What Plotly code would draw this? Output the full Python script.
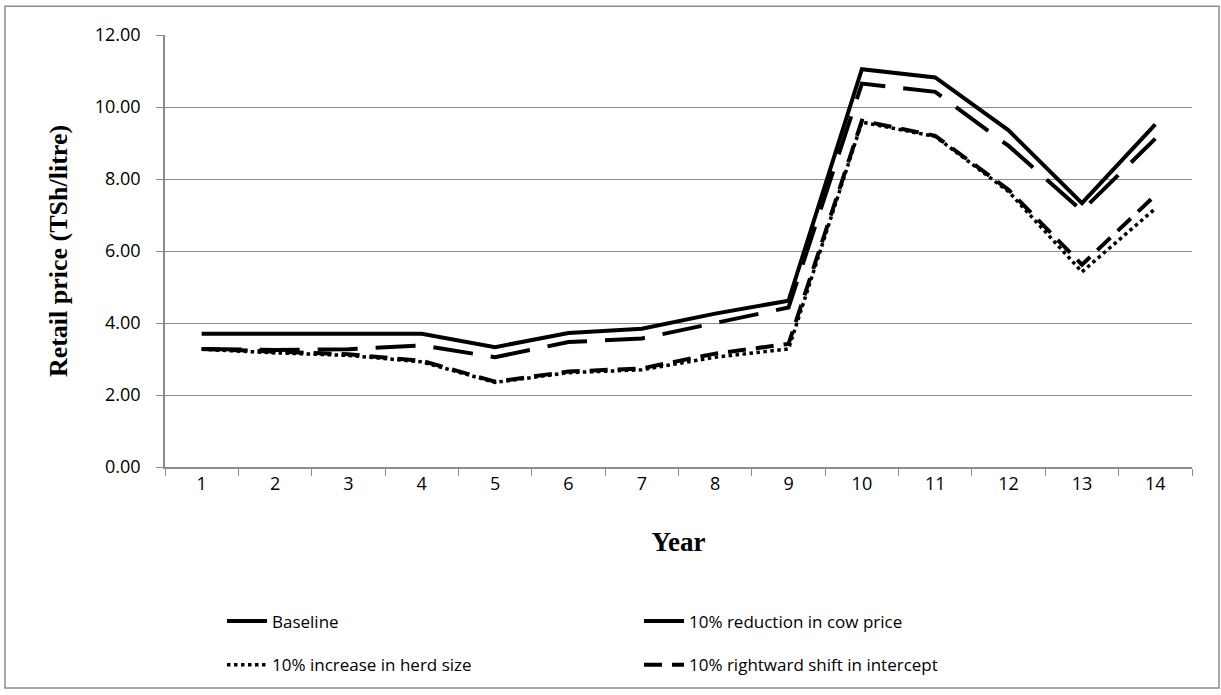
import plotly.graph_objects as go

years = [str(i) for i in range(1, 15)]
baseline = [3.70, 3.70, 3.70, 3.70, 3.33, 3.72, 3.84, 4.26, 4.62, 11.05, 10.82, 9.35, 7.33, 9.52]
cow_price = [3.28, 3.25, 3.27, 3.38, 3.05, 3.47, 3.57, 4.00, 4.43, 10.65, 10.42, 8.92, 7.12, 9.12]
herd_size = [3.27, 3.17, 3.10, 2.92, 2.35, 2.62, 2.70, 3.05, 3.28, 9.58, 9.18, 7.65, 5.42, 7.18]
intercept = [3.28, 3.20, 3.13, 2.95, 2.37, 2.65, 2.74, 3.15, 3.42, 9.62, 9.20, 7.70, 5.62, 7.55]

series = [
    ("Baseline", baseline, "solid", 4, "legend"),
    ("10% reduction in cow price", cow_price, "40px,18px", 4, "legend"),
    ("10% increase in herd size", herd_size, "dot", 3.5, "legend2"),
    ("10% rightward shift in intercept", intercept, "18px,10px", 4, "legend2"),
]

fig = go.Figure()
for name, vals, dash, w, lg in series:
    fig.add_trace(go.Scatter(
        x=years, y=vals, name=name, mode="lines", legend=lg,
        line=dict(color="black", width=w, dash=dash),
    ))

grid = "#8c8c8c"
W, H = 1221, 695
L, R, T, B = 165, 29, 35, 226
pw, ph = W - L - R, H - T - B
leg_common = dict(
    orientation="h", xanchor="left", yanchor="top",
    entrywidth=362, entrywidthmode="pixels",
    font=dict(family="Open Sans", size=17, color="black"),
    itemwidth=40, bgcolor="rgba(0,0,0,0)",
)
fig.update_layout(
    width=W, height=H,
    margin=dict(l=L, r=R, t=T, b=B),
    paper_bgcolor="white", plot_bgcolor="white",
    font=dict(family="Open Sans", size=17, color="black"),
    showlegend=True,
    legend=dict(x=(222 - L) / pw, y=(469 - 606) / ph, **leg_common),
    legend2=dict(x=(222 - L) / pw, y=(469 - 650) / ph, **leg_common),
    xaxis=dict(
        type="category", tickson="boundaries", ticks="outside", ticklen=7,
        range=[-0.5, 13.5],
        tickcolor=grid, showline=True, linecolor=grid, linewidth=1.5,
        showgrid=False, tickfont=dict(size=18),
        title=dict(text="<b>Year</b>", font=dict(family="Liberation Serif", size=27), standoff=38),
    ),
    yaxis=dict(
        range=[0, 12], dtick=2, tickformat=".2f", ticks="outside", ticklen=7,
        tickcolor=grid, showline=True, linecolor=grid, linewidth=1.5,
        showgrid=True, gridcolor=grid, gridwidth=1.3, zeroline=False,
        tickfont=dict(size=18), ticklabelstandoff=12,
        title=dict(text="<b>Retail price (TSh/litre)</b>", font=dict(family="Liberation Serif", size=26), standoff=20),
    ),
    shapes=[dict(
        type="rect", xref="paper", yref="paper",
        x0=(5 - L) / pw, x1=(1219 - L) / pw,
        y0=(469 - 691) / ph, y1=(469 - 6) / ph,
        line=dict(color=grid, width=1.5), fillcolor="rgba(0,0,0,0)", layer="below",
    )],
)

fig.write_html(
    "out.html",
    config={"displayModeBar": False},
    post_script="document.body.style.margin='0';document.body.style.overflow='hidden';",
)
